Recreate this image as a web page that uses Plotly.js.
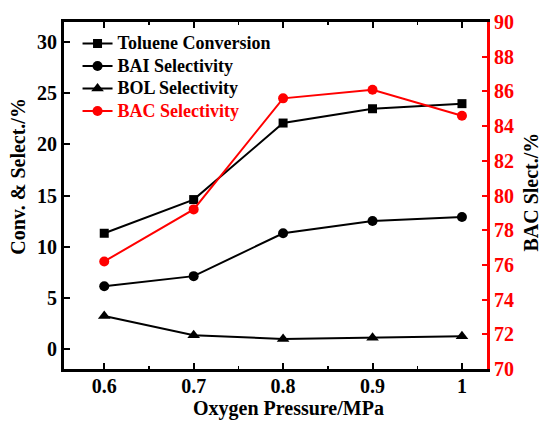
<!DOCTYPE html>
<html>
<head>
<meta charset="utf-8">
<script src="https://cdn.plot.ly/plotly-3.0.1.min.js"></script>
<style>html,body{margin:0;padding:0;background:#fff;}#chart{width:544px;height:423px;}</style>
</head>
<body>
<div id="chart"></div>
<script>
const pressure = [0.6, 0.7, 0.8, 0.9, 1.0];
const tolueneConversion = [11.3, 14.6, 22.1, 23.5, 24.0];
const baiSelectivity = [6.1, 7.1, 11.3, 12.5, 12.9];
const bolSelectivity = [3.2, 1.3, 0.95, 1.05, 1.2];
const bacSelectivity = [76.2, 79.2, 85.6, 86.1, 84.6];
const xTicks = [0.6, 0.7, 0.8, 0.9, 1.0];
const xTickText = ['0.6', '0.7', '0.8', '0.9', '1'];

const FONT = 'Liberation Serif';
const f = (size, color) => ({family: FONT, size: size, color: color || '#000', weight: 'bold'});
const big = (t, color) => '<span style="font-size:18px' + (color ? ';color:' + color : '') + '"><b>' + t + '</b></span>';

const traces = [
  {x: pressure, y: tolueneConversion, name: big('Toluene Conversion'), mode: 'lines+markers',
   line: {color: '#000', width: 2}, marker: {symbol: 'square', size: 9, color: '#000'}},
  {x: pressure, y: baiSelectivity, name: big('BAI Selectivity'), mode: 'lines+markers',
   line: {color: '#000', width: 2}, marker: {symbol: 'circle', size: 10, color: '#000'}},
  {x: pressure, y: bolSelectivity, name: big('BOL Selectivity'), mode: 'lines+markers',
   line: {color: '#000', width: 2}, marker: {symbol: 'triangle-up', size: 11, color: '#000'}},
  {x: pressure, y: bacSelectivity, name: big('BAC Selectivity', '#ff0000'), mode: 'lines+markers', yaxis: 'y2',
   line: {color: '#ff0000', width: 2}, marker: {symbol: 'circle', size: 10, color: '#ff0000'}}
];

const layout = {
  width: 544, height: 423,
  margin: {l: 64, r: 57, t: 22, b: 54},
  paper_bgcolor: '#fff', plot_bgcolor: '#fff',
  font: f(20),
  showlegend: true,
  legend: {x: 0.032, y: 0.985, xanchor: 'left', yanchor: 'top', bgcolor: 'rgba(0,0,0,0)',
           font: f(15), tracegroupgap: 0, itemwidth: 30},
  xaxis: {range: [0.555, 1.028], tickvals: xTicks, ticktext: xTickText.map(t => '<b>' + t + '</b>'),
          showline: true, linecolor: '#000', linewidth: 3, mirror: 'ticks',
          ticks: 'inside', ticklen: 6, tickwidth: 2, tickcolor: '#000', ticklabelstandoff: -3,
          minor: {dtick: 0.05, tick0: 0.55, ticks: 'inside', ticklen: 3, tickwidth: 1.5, tickcolor: '#000'},
          showgrid: false, zeroline: false, tickfont: f(20)},
  yaxis: {range: [-2, 32], tickvals: [0, 5, 10, 15, 20, 25, 30],
          ticktext: ['0', '5', '10', '15', '20', '25', '30'].map(t => '<b>' + t + '</b>'),
          showline: true, linecolor: '#000', linewidth: 3,
          ticks: 'inside', ticklen: 6, tickwidth: 2, tickcolor: '#000',
          showgrid: false, zeroline: false, tickfont: f(20)},
  yaxis2: {range: [70, 90], overlaying: 'y', side: 'right', tickvals: [70, 72, 74, 76, 78, 80, 82, 84, 86, 88, 90],
          ticktext: ['70', '72', '74', '76', '78', '80', '82', '84', '86', '88', '90'].map(t => '<b>' + t + '</b>'),
          showline: true, linecolor: '#ff0000', linewidth: 3,
          ticks: 'inside', ticklen: 5, tickwidth: 2, tickcolor: '#ff0000',
          showgrid: false, zeroline: false, tickfont: f(20, '#ff0000')},
  annotations: [
    {text: '<b>Oxygen Pressure/MPa</b>', xref: 'paper', yref: 'paper', x: 0.53, y: -0.113, xanchor: 'center', yanchor: 'middle',
     showarrow: false, font: f(20)},
    {text: '<b>Conv. &amp; Select./%</b>', xref: 'paper', yref: 'paper', x: -0.108, y: 0.555, xanchor: 'center', yanchor: 'middle',
     textangle: -90, showarrow: false, font: f(20)},
    {text: '<b>BAC Slect./%</b>', xref: 'paper', yref: 'paper', x: 1.103, y: 0.51, xanchor: 'center', yanchor: 'middle',
     textangle: -90, showarrow: false, font: f(20)}
  ]
};

Plotly.newPlot('chart', traces, layout, {displayModeBar: false, staticPlot: true});
</script>
</body>
</html>
